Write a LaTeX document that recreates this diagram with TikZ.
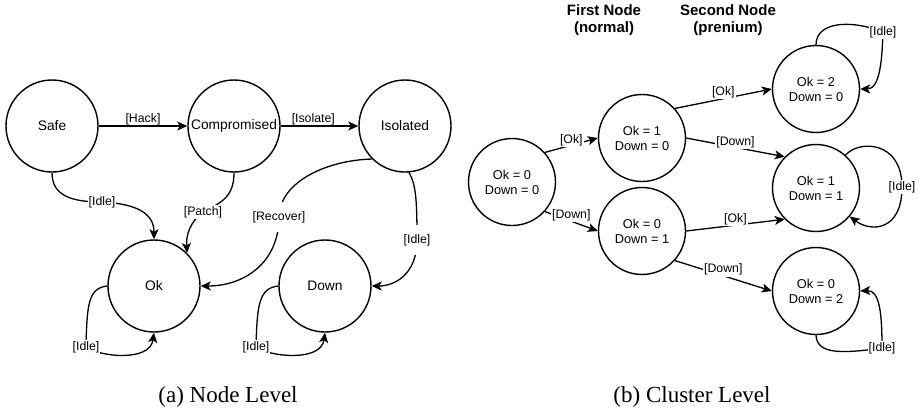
\documentclass[tikz,border=0pt]{standalone}
\usepackage{fontspec}
\setmainfont{Liberation Serif}
\setsansfont{Liberation Sans}
\usetikzlibrary{arrows.meta}
\begin{document}
\begin{tikzpicture}[x=1pt,y=-1pt,
  bigstate/.style={circle,draw,line width=1.4pt,minimum size=92pt,inner sep=0pt,font=\sffamily\fontsize{13.8}{15}\selectfont},
  smallstate/.style={circle,draw,line width=1.4pt,minimum size=87pt,inner sep=0pt,align=center,font=\sffamily\fontsize{12.8}{15}\selectfont},
  arr/.style={line width=1.3pt,-{Stealth[length=10pt,width=9pt,inset=2.5pt]}},
  lbl/.style={font=\sffamily\fontsize{12.3}{14}\selectfont,inner sep=1pt,fill=white},
  hdr/.style={font=\sffamily\bfseries\fontsize{15}{17}\selectfont,align=center},
  captext/.style={font=\rmfamily\fontsize{23}{26}\selectfont}]
\useasboundingbox (0,0) rectangle (919,413);

% ---------- (a) Node level ----------
\node[bigstate] (safe) at (52,126) {Safe};
\node[bigstate] (comp) at (234,126) {Compromised};
\node[bigstate] (iso)  at (405,126) {Isolated};
\node[bigstate] (ok)   at (154,286) {Ok};
\node[bigstate] (down) at (325,286) {Down};

\draw[arr] (safe) -- node[lbl,fill=none,above=-1pt] {[Hack]} (comp);
\draw[arr] (comp) -- node[lbl,fill=none,above=-1pt,pos=0.42] {[Isolate]} (iso);
\draw[arr] (safe.south) .. controls (52,196) and (72,202) .. (102,202) node[lbl]{[Idle]}
  .. controls (140,204) and (154,215) .. (ok.north);
\draw[arr] (comp.south) .. controls (234,198) and (220,203) .. (203,212) node[lbl]{[Patch]}
  .. controls (190,222) and (186,235) .. (ok.45);
\draw[arr] (iso.225) .. controls (330,160) and (280,180) .. (279,217) node[lbl,inner ysep=9pt]{[Recover]}
  .. controls (279,262) and (245,286) .. (ok.east);
\draw[arr] (iso.-85) .. controls (416,185) and (417,200) .. (417,240) node[lbl,inner ysep=9pt]{[Idle]}
  .. controls (417,274) and (395,286) .. (down.east);
\draw[arr] (ok.west) .. controls (88,288) and (87,305) .. (86,347) node[lbl]{[Idle]}
  .. controls (100,357) and (150,362) .. (ok.south);
\draw[arr] (down.west) .. controls (259,288) and (257,305) .. (256,347) node[lbl]{[Idle]}
  .. controls (270,357) and (321,362) .. (down.south);

% ---------- (b) Cluster level ----------
\node[hdr] (h1) at (604,20) {First Node\\(normal)};
\node[hdr] (h2) at (728,20) {Second Node\\(prenium)};

\node[smallstate] (a) at (512,182) {Ok = 0\\Down = 0};
\node[smallstate] (b) at (642,138) {Ok = 1\\Down = 0};
\node[smallstate] (c) at (642,231) {Ok = 0\\Down = 1};
\node[smallstate] (d) at (816,89)  {Ok = 2\\Down = 0};
\node[smallstate] (e) at (816,188) {Ok = 1\\Down = 1};
\node[smallstate] (f) at (816,291) {Ok = 0\\Down = 2};

\draw[arr] (a.42)  -- node[lbl,yshift=5pt]{[Ok]} (b.west);
\draw[arr] (a.-42) -- node[lbl,yshift=6pt]{[Down]} (c.west);
\draw[arr] (b.42)  -- node[lbl,yshift=6pt]{[Ok]} (d.west);
\draw[arr] (b.east) -- node[lbl,yshift=5pt]{[Down]} (e.135);
\draw[arr] (c.east) -- node[lbl,yshift=6pt]{[Ok]} (e.225);
\draw[arr] (c.-42) -- node[lbl,yshift=6pt]{[Down]} (f.west);

\draw[arr] (d.north) .. controls (816,22) and (850,19) .. (883,32) node[lbl]{[Idle]}
  .. controls (882,60) and (880,89) .. (d.east);
\draw[arr] (e.48) .. controls (858,140) and (902,140) .. (902,187) node[lbl]{[Idle]}
  .. controls (902,232) and (870,232) .. (e.-40);
\draw[arr] (f.south) .. controls (817,354) and (840,354) .. (882,348) node[lbl]{[Idle]}
  .. controls (882,315) and (880,290) .. (f.east);

% ---------- captions ----------
\node[captext] (capa) at (228,397) {(a) Node Level};
\node[captext] (capb) at (692,397) {(b) Cluster Level};
\end{tikzpicture}
\end{document}
